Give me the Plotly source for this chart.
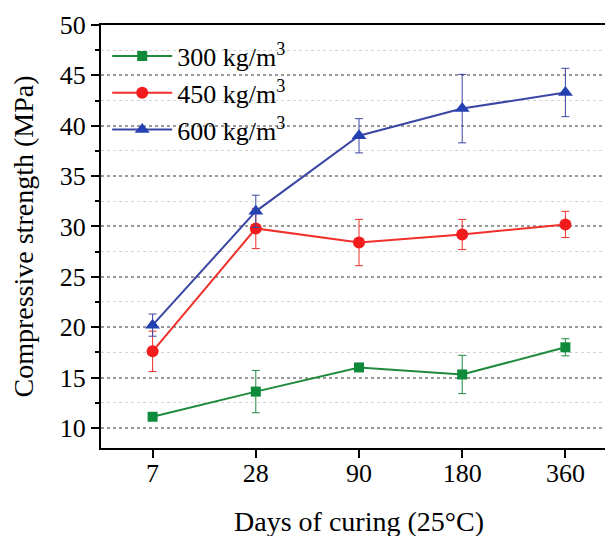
import plotly.graph_objects as go

days = ["7", "28", "90", "180", "360"]
s300 = [11.1, 13.6, 16.0, 15.3, 18.0]
e300 = [0.3, 2.1, 0.3, 1.9, 0.85]
s450 = [17.6, 29.8, 28.4, 29.2, 30.2]
e450 = [2.0, 2.0, 2.3, 1.5, 1.3]
s600 = [20.2, 31.5, 39.0, 41.7, 43.3]
e600 = [1.1, 1.6, 1.7, 3.4, 2.4]
names = ["300 kg/m<sup>3</sup>", "450 kg/m<sup>3</sup>", "600 kg/m<sup>3</sup>"]

xi = list(range(len(days)))
FONT = "Liberation Serif, Times New Roman, serif"

fig = go.Figure()
specs = [
    (s300, e300, names[0], "#1f8a3e", "#0e8a3a", "square", 10),
    (s450, e450, names[1], "#f0302a", "#f21c1c", "circle", 12),
    (s600, e600, names[2], "#3a46a4", "#2540b0", "triangle-up", 13),
]
for ys, es, nm, lc, mc, sym, sz in specs:
    fig.add_trace(go.Scatter(
        x=xi, y=ys, name=nm, mode="lines+markers",
        line=dict(color=lc, width=2),
        marker=dict(symbol=sym, size=sz, color=mc),
        error_y=dict(type="data", array=es, visible=True, color=lc,
                     thickness=1, width=4),
    ))

fig.update_layout(
    width=613, height=536,
    margin=dict(l=93, r=4, t=17, b=96),
    paper_bgcolor="white", plot_bgcolor="white",
    font=dict(family=FONT, size=26, color="black"),
    showlegend=True,
    legend=dict(x=0.012, y=0.982, xanchor="left", yanchor="top",
                bgcolor="rgba(0,0,0,0)", font=dict(size=26, family=FONT),
                tracegroupgap=0, itemwidth=60),
)
fig.update_xaxes(
    range=[-0.5, 4.5], tickmode="array", tickvals=xi, ticktext=days,
    showline=True, linecolor="black", linewidth=2, mirror=True,
    ticks="outside", ticklen=8, tickwidth=1.5, tickcolor="black",
    showgrid=False, zeroline=False, automargin=False,
    ticklabelstandoff=-7,
    title=dict(text="Days of curing (25°C)", font=dict(size=28), standoff=24),
    tickfont=dict(size=26),
)
fig.update_yaxes(
    range=[8, 50], tickmode="linear", tick0=10, dtick=5,
    showline=True, linecolor="black", linewidth=2, mirror=False,
    ticks="outside", ticklen=8, tickwidth=1.5, tickcolor="black",
    showgrid=True, gridcolor="#999999", griddash="dot", gridwidth=1.5,
    zeroline=False, automargin=False,
    minor=dict(dtick=2.5, tick0=10, ticks="outside", ticklen=4, tickcolor="black",
               showgrid=True, gridcolor="#d4d4d4", griddash="dot", gridwidth=1),
    title=dict(text="Compressive strength (MPa)", font=dict(size=28), standoff=22),
    tickfont=dict(size=26),
)
fig.write_html("out.html")
